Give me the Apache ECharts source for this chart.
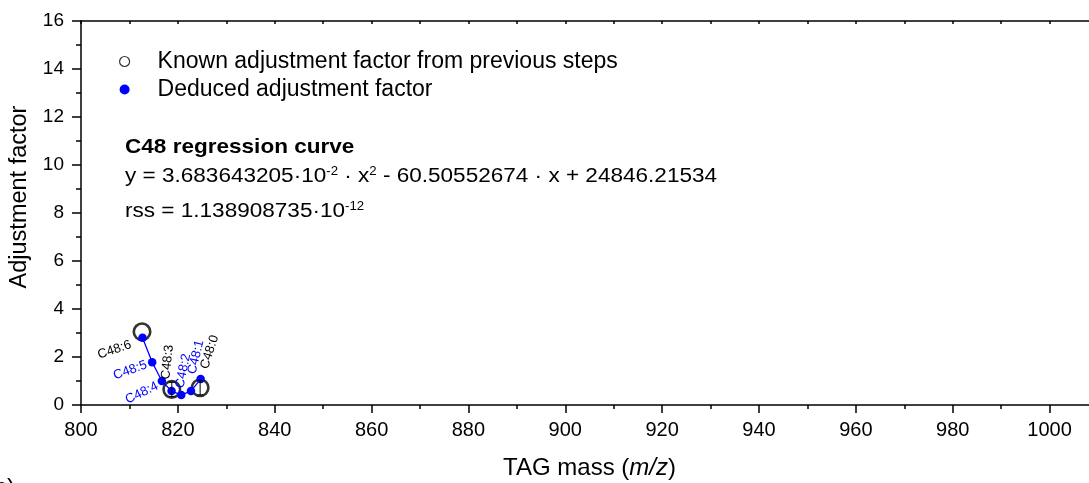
<!DOCTYPE html>
<html><head><meta charset="utf-8">
<script src="https://cdn.jsdelivr.net/npm/echarts@6/dist/echarts.min.js"></script>
<style>html,body{margin:0;padding:0;background:#fff}#c{width:1089px;height:483px}</style>
</head><body><div id="c"></div>
<script>
// ---- data ----
const deducedNames = ['C48:6','C48:5','C48:4','C48:3','C48:2','C48:1','C48:0'];
const deducedMass = [812.7, 814.7, 816.7, 818.7, 820.7, 822.7, 824.7];
const deducedFactor = [2.80, 1.78, 1.00, 0.58, 0.42, 0.58, 1.08];
const knownNames = ['C48:6','C48:3','C48:0'];
const knownMass = [812.6, 818.75, 824.6];
const knownFactor = [3.05, 0.65, 0.72];
const knownError = [0, 0.3, 0.3];
const xTickLabels = ['800','820','840','860','880','900','920','940','960','980','1000'];
const yTickLabels = ['0','2','4','6','8','10','12','14','16'];
const legendNames = ['Known adjustment factor from previous steps', 'Deduced adjustment factor'];

// ---- styles ----
const FONT = '"Liberation Sans", Arial, sans-serif';
const BLUE = '#0000ff';
const labelLayout = [
  {dx:-28, dy:12, rot:19, color:'#000'},
  {dx:-22, dy:8, rot:20, color:BLUE},
  {dx:-20, dy:12, rot:26, color:BLUE},
  {dx:-4, dy:-29, rot:84, color:'#000'},
  {dx:2, dy:-24, rot:78, color:BLUE},
  {dx:5, dy:-34, rot:76, color:BLUE},
  {dx:9, dy:-27, rot:72, color:'#000'}
];

const knownData = knownMass.map((m,i)=>[m, knownFactor[i]]);
const deducedData = deducedMass.map((m,i)=>[m, deducedFactor[i]]);
const errData = knownMass.map((m,i)=>[m, knownFactor[i], knownError[i]]).filter(d=>d[2]>0);

const axisLineStyle = {color:'#000', width:1.5};
const option = {
  animation:false,
  backgroundColor:'#fff',
  textStyle:{fontFamily:FONT},
  grid:{left:81, top:21, width:1017, height:384, outerBoundsMode:'none', containLabel:false},
  legend:{
    orient:'vertical', left:114, top:45, itemWidth:10, itemHeight:10, itemGap:5,
    textStyle:{fontSize:23, fontFamily:FONT, color:'#000', padding:[0,0,0,23]},
    selectedMode:false,
    data:[
      {name:legendNames[0], icon:'circle', itemStyle:{color:'#fff', borderColor:'#000', borderWidth:1.2}},
      {name:legendNames[1], icon:'circle', itemStyle:{color:BLUE, borderWidth:0}}
    ]
  },
  xAxis:[
    {type:'value', min:800, max:1010, interval:20, position:'bottom',
     axisLine:{onZero:false, lineStyle:axisLineStyle},
     axisTick:{length:8, lineStyle:axisLineStyle},
     minorTick:{show:true, splitNumber:2, length:4, lineStyle:axisLineStyle},
     splitLine:{show:false},
     axisLabel:{fontSize:20, margin:15, color:'#000', fontFamily:FONT, showMaxLabel:false,
       formatter:(v)=>{const i=xTickLabels.indexOf(String(v)); return i>=0?xTickLabels[i]:'';}},
     name:'TAG mass ({i|m/z})', nameLocation:'middle', nameGap:51,
     nameTextStyle:{fontSize:24, color:'#000', fontFamily:FONT,
       rich:{i:{fontSize:24, fontStyle:'italic', color:'#000', fontFamily:FONT}}}
    },
    {type:'value', min:800, max:1010, interval:20, position:'top',
     axisLine:{onZero:false, lineStyle:axisLineStyle},
     axisTick:{inside:true, length:3, lineStyle:axisLineStyle},
     minorTick:{show:true, splitNumber:2, length:3, lineStyle:axisLineStyle},
     splitLine:{show:false}, axisLabel:{show:false}
    }
  ],
  yAxis:[{
    type:'value', min:0, max:16, interval:2,
    axisLine:{onZero:false, lineStyle:axisLineStyle},
    axisTick:{length:9, lineStyle:axisLineStyle},
    minorTick:{show:true, splitNumber:2, length:5, lineStyle:axisLineStyle},
    splitLine:{show:false},
    axisLabel:{fontSize:19, margin:17, color:'#000', fontFamily:FONT,
      formatter:(v)=>{const i=yTickLabels.indexOf(String(v)); return i>=0?yTickLabels[i]:'';}},
    name:'Adjustment factor', nameLocation:'middle', nameGap:48,
    nameTextStyle:{fontSize:23.5, color:'#000', fontFamily:FONT, padding:[0,0,0,32]}
  }],
  series:[
    {name:legendNames[0], type:'scatter', data:knownData, symbol:'circle', symbolSize:16.5,
     itemStyle:{color:'#fff', borderColor:'#000', borderWidth:2.6}, z:2},
    {name:legendNames[1], type:'line', data:deducedData, symbol:'circle', symbolSize:8.5, showSymbol:true,
     itemStyle:{color:BLUE}, lineStyle:{color:BLUE, width:1.3}, z:3},
    {name:'err', type:'custom', data:errData, z:4, silent:true,
     renderItem:(params, api)=>{
       const x = api.value(0), y = api.value(1), e = api.value(2);
       const top = api.coord([x, y+e]), bot = api.coord([x, y-e]);
       const hw = 3;
       const st = {stroke:'#000', lineWidth:1};
       return {type:'group', children:[
         {type:'line', shape:{x1:top[0], y1:top[1], x2:bot[0], y2:bot[1]}, style:st},
         {type:'line', shape:{x1:top[0]-hw, y1:top[1], x2:top[0]+hw, y2:top[1]}, style:st},
         {type:'line', shape:{x1:bot[0]-hw, y1:bot[1], x2:bot[0]+hw, y2:bot[1]}, style:st}
       ]};
     }}
  ]
};

const chart = echarts.init(document.getElementById('c'), null, {renderer:'canvas'});
chart.setOption(option);

const graphics = [];
deducedNames.forEach((n,i)=>{
  const p = chart.convertToPixel({xAxisIndex:0, yAxisIndex:0}, [deducedMass[i], deducedFactor[i]]);
  const L = labelLayout[i];
  graphics.push({type:'text', x:p[0]+L.dx, y:p[1]+L.dy, rotation:L.rot*Math.PI/180, z:10,
    style:{text:n, fontSize:13, fontFamily:FONT, fill:L.color, align:'center', verticalAlign:'middle'}});
});
const SX = 1.1;
graphics.push({type:'text', x:125, y:147, scaleX:SX, z:10,
  style:{text:'C48 regression curve', fontSize:20.5, fontWeight:'bold', fontFamily:FONT, fill:'#000', align:'left', verticalAlign:'middle'}});
graphics.push({type:'text', x:125, y:176, scaleX:SX, z:10,
  style:{text:'{n|y = 3.683643205·10}{s|-2}{n| · x}{s|2}{n| - 60.50552674 · x + 24846.21534}',
    align:'left', verticalAlign:'middle',
    rich:{n:{fontSize:20.5, fontFamily:FONT, fill:'#000'}, s:{fontSize:12, fontFamily:FONT, fill:'#000', verticalAlign:'top'}}}});
graphics.push({type:'text', x:125, y:211, scaleX:SX, z:10,
  style:{text:'{n|rss = 1.138908735·10}{s|-12}',
    align:'left', verticalAlign:'middle',
    rich:{n:{fontSize:20.5, fontFamily:FONT, fill:'#000'}, s:{fontSize:12, fontFamily:FONT, fill:'#000', verticalAlign:'top'}}}});
graphics.push({type:'text', x:15, y:500, z:10,
  style:{text:'(c)', fontSize:24, fontFamily:FONT, fill:'#000', align:'right', verticalAlign:'bottom'}});
chart.setOption({graphic:graphics});
</script></body></html>
